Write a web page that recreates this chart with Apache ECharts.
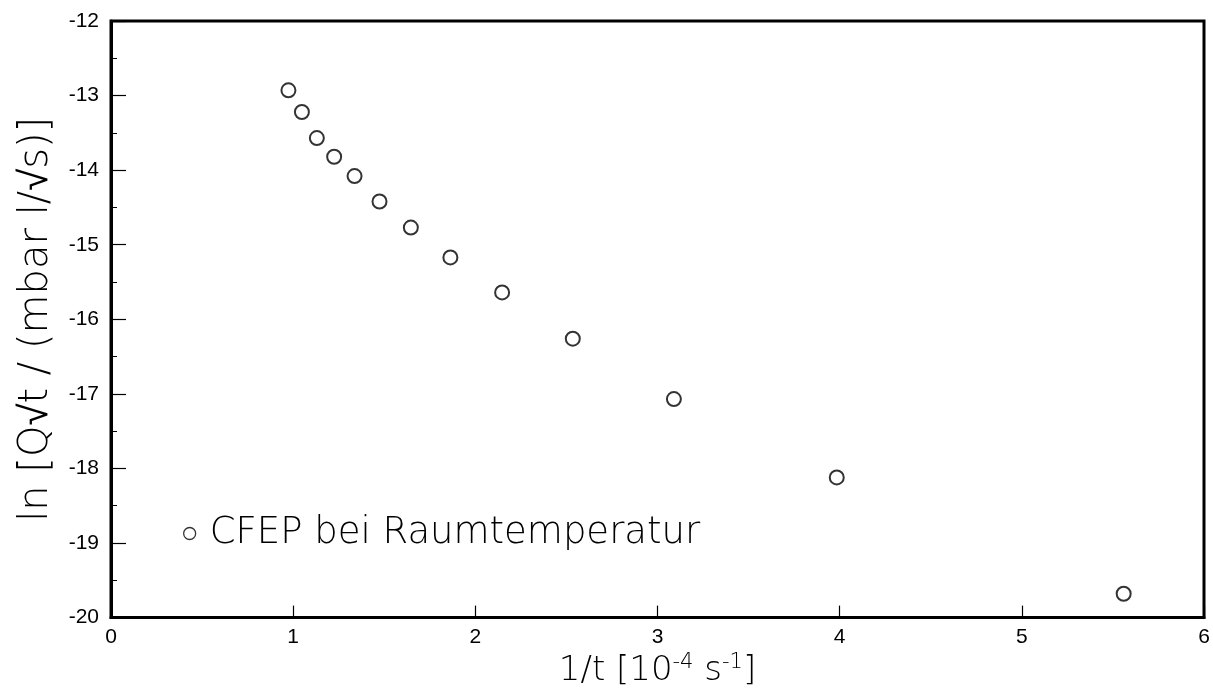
<!DOCTYPE html>
<html>
<head>
<meta charset="utf-8">
<script src="https://cdn.jsdelivr.net/npm/echarts@6/dist/echarts.min.js"></script>
<style>
html,body{margin:0;padding:0;background:#fff;}
#chart{width:1213px;height:693px;}
</style>
</head>
<body>
<div id="chart"></div>
<script>
// Data
const seriesName = 'CFEP bei Raumtemperatur';
const xValues = [0.974, 1.048, 1.130, 1.225, 1.337, 1.474, 1.646, 1.863, 2.147, 2.535, 3.090, 3.984, 5.559];
const yValues = [-12.93, -13.22, -13.57, -13.82, -14.08, -14.42, -14.77, -15.17, -15.64, -16.26, -17.07, -18.12, -19.68];
const xTicks = [0, 1, 2, 3, 4, 5, 6];
const yTicks = [-20, -19, -18, -17, -16, -15, -14, -13, -12];

const points = xValues.map((x, i) => [x, yValues[i]]);
const numFont = '"Liberation Sans", Arial, sans-serif';
const titleFont = '"DejaVu Sans", sans-serif';

const chart = echarts.init(document.getElementById('chart'), null, {renderer: 'canvas'});
chart.setOption({
  backgroundColor: '#ffffff',
  animation: false,
  grid: {
    left: 111, right: 9, top: 21, bottom: 74,
    show: true, borderColor: '#000', borderWidth: 3, backgroundColor: 'transparent'
  },
  legend: {
    show: true,
    left: 178, top: 510,
    itemWidth: 12, itemHeight: 12,
    data: [{
      name: seriesName,
      icon: 'circle',
      itemStyle: {color: '#fff', borderColor: '#000', borderWidth: 1.3}
    }],
    textStyle: {
      fontFamily: titleFont, fontWeight: 200, fontSize: 37, color: '#000',
      padding: [0, 0, 0, 9]
    }
  },
  xAxis: {
    type: 'value',
    min: xTicks[0], max: xTicks[xTicks.length - 1], interval: 1,
    name: '1/t [10{sup|-4} s{sup|-1}]',
    nameLocation: 'middle', nameGap: 20,
    nameTextStyle: {
      fontFamily: titleFont, fontWeight: 200, fontSize: 34, color: '#000',
      rich: {sup: {fontFamily: titleFont, fontWeight: 200, fontSize: 21, color: '#000', verticalAlign: 'top', padding: [0, 0, 16, 0]}}
    },
    axisLine: {show: true, onZero: false, lineStyle: {color: '#000', width: 3}},
    axisTick: {show: true, inside: true, length: 12, lineStyle: {color: '#000', width: 1.2}},
    minorTick: {show: false},
    splitLine: {show: false},
    axisLabel: {
      margin: 9, fontFamily: numFont, fontSize: 21, color: '#000',
      formatter: v => xTicks.includes(v) ? String(v) : ''
    }
  },
  yAxis: {
    type: 'value',
    min: yTicks[0], max: yTicks[yTicks.length - 1], interval: 1,
    name: 'ln [Q√t / (mbar l/√s)]',
    nameLocation: 'middle', nameGap: 54, nameRotate: 90,
    nameTextStyle: {fontFamily: titleFont, fontWeight: 200, fontSize: 40, color: '#000'},
    axisLine: {show: true, onZero: false, lineStyle: {color: '#000', width: 3}},
    axisTick: {show: true, inside: true, length: 15, lineStyle: {color: '#000', width: 1.2}},
    minorTick: {show: true, splitNumber: 2, length: 6, lineStyle: {color: '#000', width: 1}},
    splitLine: {show: false},
    axisLabel: {
      margin: 12, fontFamily: numFont, fontSize: 21, color: '#000',
      formatter: v => String(v)
    }
  },
  series: [{
    name: seriesName,
    type: 'scatter',
    data: points,
    symbol: 'emptyCircle',
    symbolSize: 14,
    itemStyle: {color: '#000', borderColor: '#000', borderWidth: 1.6}
  }]
});
</script>
</body>
</html>
